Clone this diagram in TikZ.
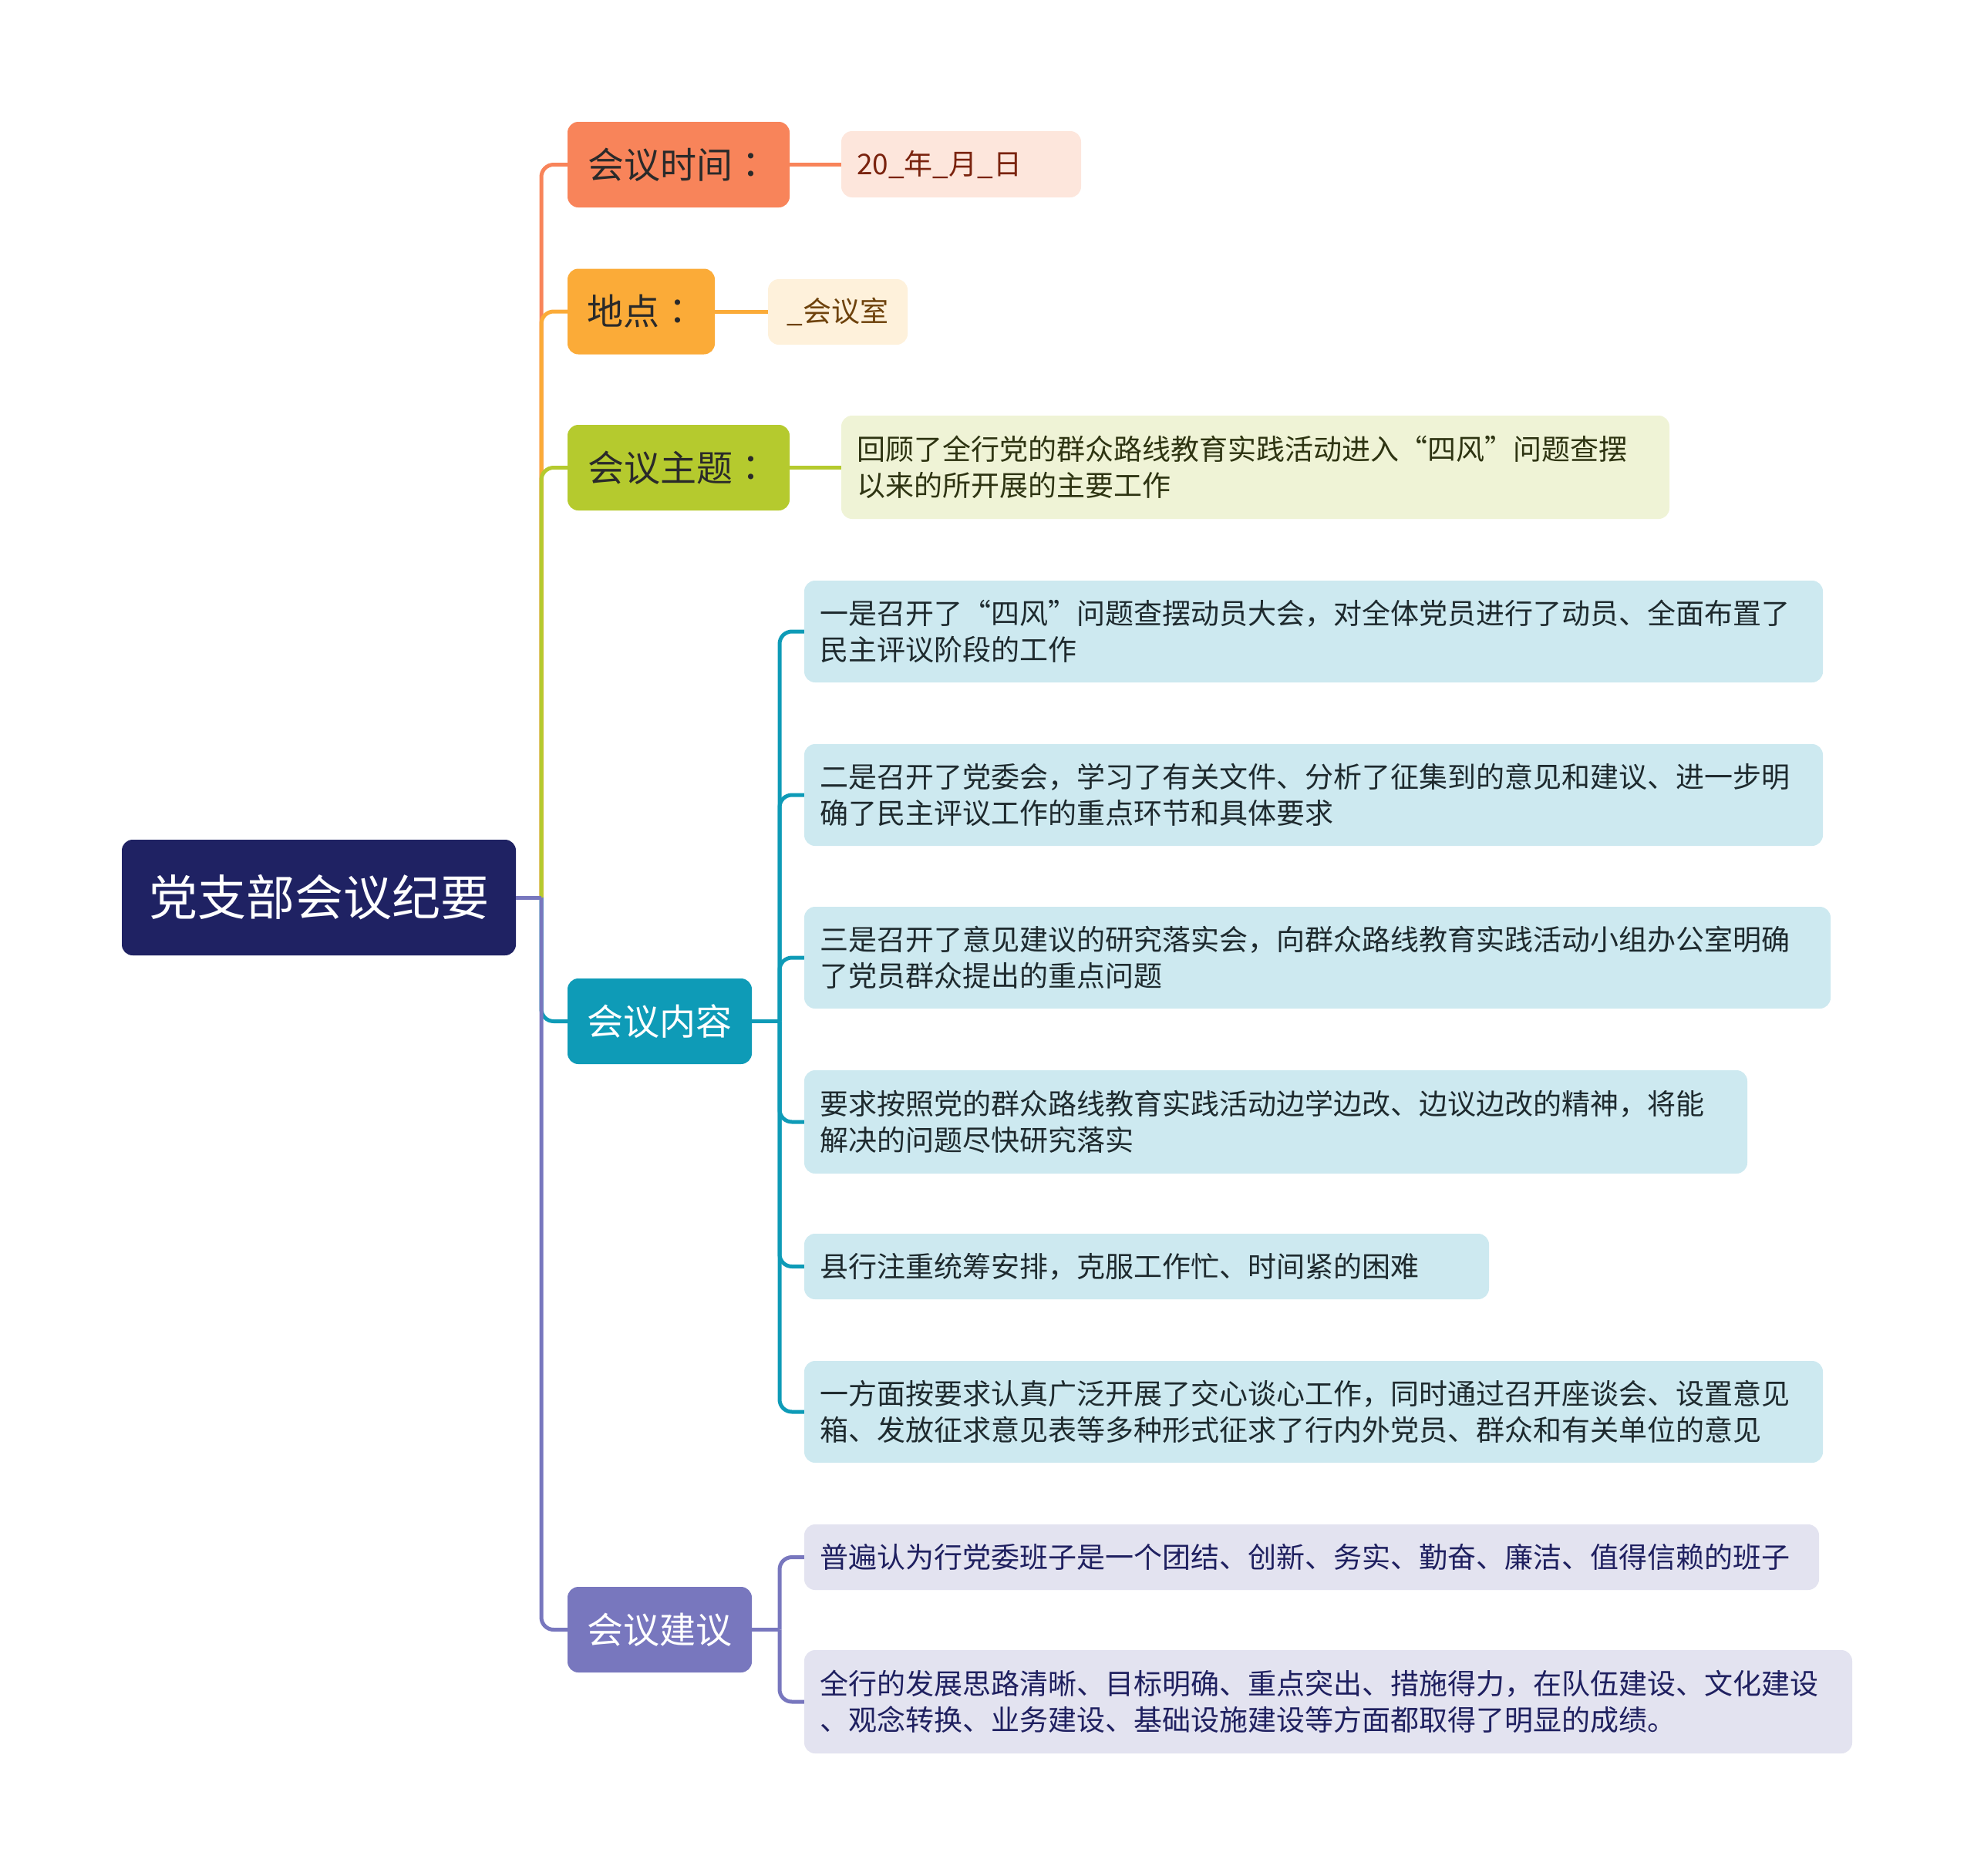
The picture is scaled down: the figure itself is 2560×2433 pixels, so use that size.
\documentclass[tikz,border=0pt]{standalone}
\usepackage{fontspec}
\setmainfont{Noto Sans CJK SC}
\newfontfamily\tcfont{Noto Sans CJK TC}
\newcommand{\cco}{{\tcfont ：}}
\usetikzlibrary{calc}
\definecolor{rootc}{HTML}{1F2263}
\definecolor{timec}{HTML}{F8845A}
\definecolor{timel}{HTML}{FDE6DC}
\definecolor{timet}{HTML}{7A230E}
\definecolor{placec}{HTML}{FBAB38}
\definecolor{placel}{HTML}{FEF1DB}
\definecolor{placet}{HTML}{6E420C}
\definecolor{themec}{HTML}{B5CA2E}
\definecolor{themel}{HTML}{EFF3D6}
\definecolor{themet}{HTML}{2E3412}
\definecolor{contc}{HTML}{0E9BB7}
\definecolor{contl}{HTML}{CDE9F0}
\definecolor{contt}{HTML}{1E2A2E}
\definecolor{sugc}{HTML}{7877BE}
\definecolor{sugl}{HTML}{E3E3F0}
\definecolor{sugt}{HTML}{1F2060}
\definecolor{darkt}{HTML}{2A2A2A}
\begin{document}
\begin{tikzpicture}[x=1pt,y=-1pt,
  box/.style={rounded corners=14pt, inner ysep=0pt},
  lvl/.style={box, inner xsep=0pt, font=\fontsize{47}{56}\selectfont, minimum height=111pt},
  leaf/.style={box, inner xsep=20pt, font=\fontsize{37}{47}\selectfont, align=left},
  conn/.style={line width=5pt},
  elbow/.style={line width=5pt, rounded corners=16pt},
]
\useasboundingbox (0,0) rectangle (2560,2433);

% root
\node[box, fill=rootc, text=white, minimum width=511pt, minimum height=150pt,
      font=\fontsize{63}{72}\selectfont] (root) at (413.5,1164) {党支部会议纪要};

% level 1
\node[lvl, fill=timec, text=darkt, minimum width=288pt] (t1) at (880,213.5) {会议时间\cco};
\node[lvl, fill=placec, text=darkt, minimum width=191pt] (t2) at (831.5,404) {地点\cco};
\node[lvl, fill=themec, text=darkt, minimum width=288pt] (t3) at (880,606.5) {会议主题\cco};
\node[lvl, fill=contc, text=white, minimum width=239pt] (t4) at (855.5,1324.5) {会议内容};
\node[lvl, fill=sugc, text=white, minimum width=239pt] (t5) at (855.5,2113.5) {会议建议};

% leaves of first three
\node[leaf, fill=timel, text=timet, text width=271pt, minimum height=86pt] (l1) at (1246.5,213) {20\_年\_月\_日};
\node[leaf, inner xsep=10pt, fill=placel, text=placet, minimum width=181pt, minimum height=85pt] (l2) at (1086.5,404.5) {\_会议室};
\node[leaf, fill=themel, text=themet, text width=1034pt, minimum height=134pt] (l3) at (1628,606) {回顾了全行党的群众路线教育实践活动进入“四风”问题查摆\\以来的所开展的主要工作};

% content items
\node[leaf, fill=contl, text=contt, text width=1281pt, minimum height=132pt] (c1) at (1703.5,819) {一是召开了“四风”问题查摆动员大会，对全体党员进行了动员、全面布置了\\民主评议阶段的工作};
\node[leaf, fill=contl, text=contt, text width=1281pt, minimum height=132pt] (c2) at (1703.5,1031) {二是召开了党委会，学习了有关文件、分析了征集到的意见和建议、进一步明\\确了民主评议工作的重点环节和具体要求};
\node[leaf, fill=contl, text=contt, text width=1291pt, minimum height=132pt] (c3) at (1708.5,1242) {三是召开了意见建议的研究落实会，向群众路线教育实践活动小组办公室明确\\了党员群众提出的重点问题};
\node[leaf, fill=contl, text=contt, text width=1183pt, minimum height=134pt] (c4) at (1654.5,1455) {要求按照党的群众路线教育实践活动边学边改、边议边改的精神，将能\\解决的问题尽快研究落实};
\node[leaf, fill=contl, text=contt, text width=848pt, minimum height=85pt] (c5) at (1487,1642.5) {县行注重统筹安排，克服工作忙、时间紧的困难};
\node[leaf, fill=contl, text=contt, text width=1281pt, minimum height=132pt] (c6) at (1703.5,1831) {一方面按要求认真广泛开展了交心谈心工作，同时通过召开座谈会、设置意见\\箱、发放征求意见表等多种形式征求了行内外党员、群众和有关单位的意见};

% suggestion items
\node[leaf, fill=sugl, text=sugt, text width=1276pt, minimum height=85pt] (s1) at (1701,2019.5) {普遍认为行党委班子是一个团结、创新、务实、勤奋、廉洁、值得信赖的班子};
\node[leaf, fill=sugl, text=sugt, text width=1319pt, minimum height=134pt] (s2) at (1722.5,2207) {全行的发展思路清晰、目标明确、重点突出、措施得力，在队伍建设、文化建设\\、观念转换、业务建设、基础设施建设等方面都取得了明显的成绩。};

% junctions
\coordinate (J) at (702,1164);
\coordinate (JC) at (1011,1324.5);
\coordinate (JS) at (1011,2113.5);

% root connectors
\draw[elbow, timec] (J) |- (t1.west);
\draw[elbow, placec] (J) |- (t2.west);
\draw[elbow, themec] (J) |- (t3.west);
\draw[elbow, contc] (J) |- (t4.west);
\draw[elbow, sugc] (J) |- (t5.west);
\draw[conn, sugc] (root.east) -- (J);

% level1 to leaf
\draw[conn, timec] (t1.east) -- (t1.east -| l1.west);
\draw[conn, placec] (t2.east) -- (t2.east -| l2.west);
\draw[conn, themec] (t3.east) -- (t3.east -| l3.west);

% content connectors
\draw[conn, contc] (t4.east) -- (JC);
\foreach \n in {c1,c2,c3,c4,c5,c6} \draw[elbow, contc] (JC) |- (\n.west);

% suggestion connectors
\draw[conn, sugc] (t5.east) -- (JS);
\foreach \n in {s1,s2} \draw[elbow, sugc] (JS) |- (\n.west);
\end{tikzpicture}
\end{document}
